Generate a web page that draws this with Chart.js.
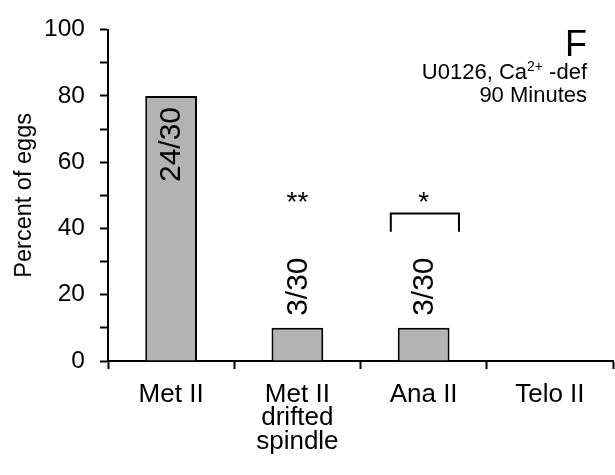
<!DOCTYPE html>
<html>
<head>
<meta charset="utf-8">
<script src="https://cdn.jsdelivr.net/npm/chart.js@4"></script>
<style>
  html, body { margin: 0; padding: 0; background: #fff; }
  #wrap { width: 615px; height: 475px; }
</style>
</head>
<body>
<div id="wrap"><canvas id="chart" width="615" height="475"></canvas></div>
<script>
// Meiotic stage categories (multi-line labels)
const categories = [['Met II'], ['Met II', 'drifted', 'spindle'], ['Ana II'], ['Telo II']];
// Percent of eggs at each stage
const percentOfEggs = [80, 10, 10, 0];
// Counts written on the bars
const countLabels = ['24/30', '3/30', '3/30', ''];
// Significance markers above the bars
const significance = ['', '**', '*', ''];
// Bracket under the single asterisk: [category from, category to, top value, leg bottom value]
const bracket = [1.74, 2.28, 44.5, 39];
// Level of the significance asterisks, in percent
const markerLevel = 50;
// Y axis range and tick step
const yMin = 0, yMax = 100, yStep = 10, yLabelStep = 20;

const FONT = '"Liberation Sans", Arial, Helvetica, sans-serif';

const annotations = {
  id: 'annotations',
  afterDatasetsDraw(chart) {
    const { ctx, scales: { x, y }, chartArea } = chart;
    ctx.save();
    ctx.fillStyle = '#000';
    ctx.strokeStyle = '#000';

    // count labels, rotated
    ctx.font = '30px ' + FONT;
    ctx.textBaseline = 'middle';
    countLabels.forEach((txt, i) => {
      if (!txt) return;
      const cx = x.getPixelForValue(i);
      const top = y.getPixelForValue(percentOfEggs[i]);
      const base = y.getPixelForValue(0);
      const len = ctx.measureText(txt).width;
      const inside = (base - top) > len + 30;
      ctx.save();
      if (inside) {
        ctx.translate(cx, top + 11);
        ctx.rotate(-Math.PI / 2);
        ctx.textAlign = 'right';
      } else {
        ctx.translate(cx, top - 12);
        ctx.rotate(-Math.PI / 2);
        ctx.textAlign = 'left';
      }
      ctx.fillText(txt, 0, 1);
      ctx.restore();
    });

    // significance asterisks
    const starSize = 28;
    ctx.font = starSize + 'px ' + FONT;
    ctx.textAlign = 'center';
    ctx.textBaseline = 'alphabetic';
    significance.forEach((s, i) => {
      if (!s) return;
      ctx.fillText(s, x.getPixelForValue(i), y.getPixelForValue(markerLevel) + 0.57 * starSize);
    });

    // bracket
    const bx1 = x.getPixelForValue(bracket[0]);
    const bx2 = x.getPixelForValue(bracket[1]);
    const bTop = y.getPixelForValue(bracket[2]);
    const bBot = y.getPixelForValue(bracket[3]);
    ctx.lineWidth = 2;
    ctx.beginPath();
    ctx.moveTo(bx1, bBot);
    ctx.lineTo(bx1, bTop);
    ctx.lineTo(bx2, bTop);
    ctx.lineTo(bx2, bBot);
    ctx.stroke();

    // panel letter and condition text
    const rx = chartArea.right - 26;
    ctx.textAlign = 'right';
    ctx.textBaseline = 'alphabetic';
    ctx.font = '36px ' + FONT;
    ctx.fillText('F', rx, chartArea.top + 26);

    // "U0126, Ca2+ -def" with superscript
    const mainFont = '22px ' + FONT;
    const supFont = '14px ' + FONT;
    const partA = 'U0126, Ca', sup = '2+', partB = ' -def';
    const line1Y = chartArea.top + 49;
    ctx.font = mainFont;
    const wA = ctx.measureText(partA).width;
    const wB = ctx.measureText(partB).width;
    ctx.font = supFont;
    const wS = ctx.measureText(sup).width;
    let sx = rx - (wA + wS + wB);
    ctx.textAlign = 'left';
    ctx.font = mainFont;
    ctx.fillText(partA, sx, line1Y);
    sx += wA;
    ctx.font = supFont;
    ctx.fillText(sup, sx, line1Y - 8);
    sx += wS;
    ctx.font = mainFont;
    ctx.fillText(partB, sx, line1Y);

    ctx.textAlign = 'right';
    ctx.fillText('90 Minutes', rx, chartArea.top + 72);
    ctx.restore();
  }
};

new Chart(document.getElementById('chart'), {
  type: 'bar',
  data: {
    labels: categories,
    datasets: [{
      data: percentOfEggs,
      backgroundColor: '#b3b3b3',
      borderColor: '#000',
      borderWidth: 2,
      borderSkipped: 'bottom',
      categoryPercentage: 1,
      barPercentage: 0.41
    }]
  },
  options: {
    responsive: false,
    animation: false,
    layout: { padding: { top: 23, right: 2, left: 0, bottom: 0 } },
    plugins: { legend: { display: false }, tooltip: { enabled: false } },
    scales: {
      x: {
        offset: true,
        grid: {
          offset: true,
          drawOnChartArea: false,
          drawTicks: true,
          tickLength: 8,
          tickWidth: 2,
          tickColor: '#000'
        },
        border: { display: true, color: '#000', width: 2 },
        ticks: {
          color: '#000',
          font: { family: FONT, size: 26, lineHeight: 0.9 },
          padding: 14,
          maxRotation: 0,
          autoSkip: false
        },
        afterFit(scale) { scale.height = 114; }
      },
      y: {
        min: yMin,
        max: yMax,
        grid: {
          drawOnChartArea: false,
          drawTicks: true,
          tickLength: 8,
          tickWidth: 2,
          tickColor: '#000'
        },
        border: { display: true, color: '#000', width: 2 },
        ticks: {
          stepSize: yStep,
          color: '#000',
          font: { family: FONT, size: 24.5 },
          padding: 15,
          callback: v => (v % yLabelStep === 0 ? String(v) : '')
        },
        title: {
          display: true,
          text: 'Percent of eggs',
          color: '#000',
          font: { family: FONT, size: 23.5 },
          padding: { top: 10, bottom: 0 }
        },
        afterFit(scale) { scale.width = 108; }
      }
    }
  },
  plugins: [annotations]
});
</script>
</body>
</html>
